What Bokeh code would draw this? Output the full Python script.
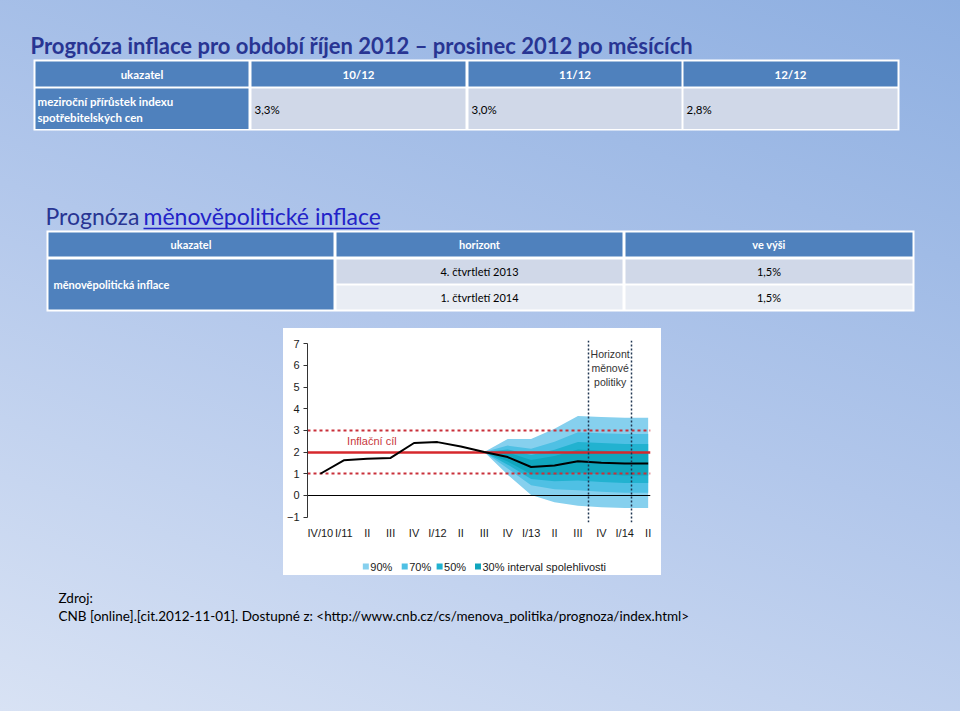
from bokeh.plotting import figure
from bokeh.models import Range1d, ColumnDataSource, FixedTicker, Spacer
from bokeh.layouts import column, row
from bokeh.core.properties import value
from bokeh.embed import file_html
from bokeh.resources import INLINE

# ---------------- data ----------------
title1 = "Prognóza inflace pro období říjen 2012 – prosinec 2012 po měsících"
t1_header = ["ukazatel", "10/12", "11/12", "12/12"]
t1_row_label = ["meziroční přírůstek indexu", "spotřebitelských cen"]
t1_values = ["3,3%", "3,0%", "2,8%"]

title2_a = "Prognóza"
title2_b = "měnověpolitické inflace"
t2_header = ["ukazatel", "horizont", "ve výši"]
t2_row_label = "měnověpolitická inflace"
t2_horizons = ["4. čtvrtletí 2013", "1. čtvrtletí 2014"]
t2_values = ["1,5%", "1,5%"]

quarters = ["IV/10", "I/11", "II", "III", "IV", "I/12", "II", "III",
            "IV", "I/13", "II", "III", "IV", "I/14", "II"]
inflation = [1.00, 1.62, 1.69, 1.73, 2.42, 2.46, 2.26, 2.00,
             1.77, 1.31, 1.38, 1.58, 1.51, 1.47, 1.47]

fan_idx = [7, 8, 9, 10, 11, 12, 13, 14]
band90_hi = [2.00, 2.60, 2.60, 3.08, 3.66, 3.62, 3.58, 3.58]
band90_lo = [2.00, 0.95, 0.02, -0.32, -0.48, -0.55, -0.58, -0.58]
band70_hi = [2.00, 2.30, 2.15, 2.48, 2.92, 2.87, 2.84, 2.84]
band70_lo = [2.00, 1.24, 0.47, 0.28, 0.24, 0.17, 0.12, 0.12]
band50_hi = [2.00, 2.12, 1.86, 2.11, 2.47, 2.42, 2.37, 2.37]
band50_lo = [2.00, 1.42, 0.76, 0.65, 0.69, 0.62, 0.57, 0.57]
band30_hi = [2.00, 1.98, 1.64, 1.82, 2.12, 2.06, 2.02, 2.02]
band30_lo = [2.00, 1.56, 0.98, 0.94, 1.04, 0.98, 0.92, 0.92]
band_labels = ["90%", "70%", "50%", "30% interval spolehlivosti"]

target = [2.0]
tolerance = [1.0, 3.0]
horizon_x = [11.45, 13.3]
y_ticks = [-1, 0, 1, 2, 3, 4, 5, 6, 7]

source_lines = ["Zdroj:",
                "CNB [online].[cit.2012-11-01]. Dostupné z: <http://www.cnb.cz/cs/menova_politika/prognoza/index.html>"]

# ---------------- styles ----------------
FONT = value("Lato")
CHART_FONT = value("Liberation Sans")
BLUE = "#4f81bd"
LIGHT = "#d0d8e8"
LIGHTER = "#e9edf4"
TITLE_COL = "#283593"
LINK_COL = "#2222c8"
BAND_COLORS = ["#86d0ee", "#4fc0e4", "#22b2d0", "#10a5bd"]
LEGEND_SWATCH_X = [364.5, 403.5, 438.5, 477]


def blank(w, h, x0, y0, y1, fill=None):
    f = figure(width=w, height=h, x_range=Range1d(x0, x0 + w), y_range=Range1d(y1, y0),
               output_backend="svg", toolbar_location=None, x_axis_type=None, y_axis_type=None,
               min_border=0, outline_line_color=None, background_fill_color=fill,
               border_fill_color=fill)
    return f


# ---------------- top part: titles and tables ----------------
top = blank(960, 328, 0, 0, 328)

top.text(x=[30], y=[45], text=[title1], text_font=FONT, text_font_style="bold",
         text_font_size="22px", text_color=TITLE_COL, text_baseline="middle")

# table 1
top.quad(left=[33], right=[899], top=[59], bottom=[130], fill_color="white", line_color=None)
t1_left = [35, 251, 468, 683]
t1_right = [248, 465, 681, 897]
top.quad(left=t1_left, right=t1_right, top=[61] * 4, bottom=[86] * 4, fill_color=BLUE, line_color=None)
top.quad(left=t1_left, right=t1_right, top=[88] * 4, bottom=[128.5] * 4,
         fill_color=[BLUE, LIGHT, LIGHT, LIGHT], line_color=None)
top.text(x=[(a + b) / 2 for a, b in zip(t1_left, t1_right)], y=[73.5] * 4, text=t1_header,
         text_font=FONT, text_font_style="bold", text_font_size="11.5px", text_color="white",
         text_align="center", text_baseline="middle")
top.text(x=[37, 37], y=[101, 117], text=t1_row_label, text_font=FONT, text_font_style="bold",
         text_font_size="11.5px", text_color="white", text_baseline="middle")
top.text(x=[l + 3 for l in t1_left[1:]], y=[108.5] * 3, text=t1_values, text_font=FONT,
         text_font_size="11.5px", text_color="black", text_baseline="middle")

# title 2
top.text(x=[45], y=[215], text=[title2_a], text_font=FONT, text_font_size="23px",
         text_color=TITLE_COL, text_baseline="middle")
top.text(x=[143], y=[215], text=[title2_b], text_font=FONT, text_font_size="23px",
         text_color=LINK_COL, text_baseline="middle")
top.segment(x0=[143], x1=[378], y0=[228], y1=[228], line_color=LINK_COL, line_width=1.5)

# table 2
top.quad(left=[46], right=[914], top=[230], bottom=[311], fill_color="white", line_color=None)
t2_left = [48, 336, 625]
t2_right = [333, 622, 912]
top.quad(left=t2_left, right=t2_right, top=[232] * 3, bottom=[256] * 3, fill_color=BLUE, line_color=None)
top.quad(left=[48], right=[333], top=[259], bottom=[309], fill_color=BLUE, line_color=None)
top.quad(left=t2_left[1:], right=t2_right[1:], top=[259, 259], bottom=[283, 283], fill_color=LIGHT, line_color=None)
top.quad(left=t2_left[1:], right=t2_right[1:], top=[285, 285], bottom=[309, 309], fill_color=LIGHTER, line_color=None)
top.text(x=[(a + b) / 2 for a, b in zip(t2_left, t2_right)], y=[244] * 3, text=t2_header,
         text_font=FONT, text_font_style="bold", text_font_size="11px", text_color="white",
         text_align="center", text_baseline="middle")
top.text(x=[53], y=[284], text=[t2_row_label], text_font=FONT, text_font_style="bold",
         text_font_size="11px", text_color="white", text_baseline="middle")
cx2 = (t2_left[1] + t2_right[1]) / 2
cx3 = (t2_left[2] + t2_right[2]) / 2
top.text(x=[cx2, cx2], y=[271, 297], text=t2_horizons, text_font=FONT, text_font_size="11px",
         text_color="black", text_align="center", text_baseline="middle")
top.text(x=[cx3, cx3], y=[271, 297], text=t2_values, text_font=FONT, text_font_size="11px",
         text_color="black", text_align="center", text_baseline="middle")

# ---------------- chart ----------------
p = figure(width=378, height=215, x_range=Range1d(-0.55, 14.1), y_range=Range1d(-1.25, 7.15),
           output_backend="svg", toolbar_location=None,
           min_border_left=23, min_border_right=11, min_border_top=12, min_border_bottom=21,
           background_fill_color="white", border_fill_color="white", outline_line_color=None)
p.grid.visible = False

fan = ColumnDataSource(dict(x=fan_idx, h90=band90_hi, l90=band90_lo, h70=band70_hi, l70=band70_lo,
                            h50=band50_hi, l50=band50_lo, h30=band30_hi, l30=band30_lo))
p.varea(x="x", y1="l90", y2="h90", source=fan, fill_color=BAND_COLORS[0])
p.varea(x="x", y1="l70", y2="h70", source=fan, fill_color=BAND_COLORS[1])
p.varea(x="x", y1="l50", y2="h50", source=fan, fill_color=BAND_COLORS[2])
p.varea(x="x", y1="l30", y2="h30", source=fan, fill_color=BAND_COLORS[3])

p.hspan(y=[0], line_color="black", line_width=1)
p.hspan(y=target, line_color="#d6282d", line_width=2.5)
p.hspan(y=tolerance, line_color="#c9303a", line_width=2, line_dash="3 3")

p.line(x=list(range(len(quarters))), y=inflation, line_color="black", line_width=2)

p.vspan(x=horizon_x, line_color="#1f3550", line_width=1.5, line_dash="2 2")

p.text(x=[2.2], y=[2.52], text=["Inflační cíl"], text_font=CHART_FONT, text_font_size="11px",
       text_color="#c8383c", text_align="center", text_baseline="middle")
hx = (horizon_x[0] + horizon_x[1]) / 2
p.text(x=[hx, hx, hx], y=[6.54, 5.9, 5.25], text=["Horizont", "měnové", "politiky"],
       text_font=CHART_FONT, text_font_size="10.5px", text_color="#333333",
       text_align="center", text_baseline="middle")

p.yaxis.ticker = FixedTicker(ticks=y_ticks)
p.yaxis.bounds = (-1, 7)
p.yaxis.axis_line_color = "#333333"
p.yaxis.major_tick_line_color = "#333333"
p.yaxis.major_tick_out = 4
p.yaxis.major_tick_in = 0
p.yaxis.minor_tick_line_color = None
p.yaxis.major_label_standoff = 4
p.yaxis.major_label_text_font = "Liberation Sans"
p.yaxis.major_label_text_font_size = "11px"
p.yaxis.major_label_text_color = "#1a1a1a"

p.xaxis.ticker = FixedTicker(ticks=list(range(len(quarters))))
p.xaxis.major_label_overrides = {i: q for i, q in enumerate(quarters)}
p.xaxis.axis_line_color = None
p.xaxis.major_tick_line_color = None
p.xaxis.minor_tick_line_color = None
p.xaxis.major_tick_out = 0
p.xaxis.major_tick_in = 0
p.xaxis.major_label_standoff = 4
p.xaxis.major_label_text_font = "Liberation Sans"
p.xaxis.major_label_text_font_size = "11px"
p.xaxis.major_label_text_color = "#1a1a1a"

# legend strip under the chart (page pixel coordinates, frame aligned with the chart frame)
leg = figure(width=378, height=32, x_range=Range1d(306, 650), y_range=Range1d(575, 543),
             output_backend="svg", toolbar_location=None, x_axis_type=None, y_axis_type=None,
             min_border=0, min_border_left=23, min_border_right=11,
             outline_line_color=None, background_fill_color=None, border_fill_color=None)
leg.rect(x=LEGEND_SWATCH_X, y=[566] * 4, width=6, height=6, width_units="screen",
         height_units="screen", fill_color=BAND_COLORS, line_color=None)
leg.text(x=[sx + 4.5 for sx in LEGEND_SWATCH_X], y=[566] * 4, text=band_labels,
         text_font=CHART_FONT, text_font_size="11px", text_color="#1a1a1a",
         text_baseline="middle")

# ---------------- bottom part: source ----------------
bottom = blank(960, 136, 0, 575, 711)
bottom.text(x=[58, 58], y=[597, 615], text=source_lines, text_font=FONT, text_font_size="13.5px",
            text_color="black", text_baseline="middle")

chart_box = column(p, leg, styles={"background": "white"})
layout = column(top,
                row(Spacer(width=283, height=247), chart_box, Spacer(width=299, height=247)),
                bottom,
                styles={"background": "linear-gradient(200deg, #8eafe1 0%, #b2c7eb 50%, #d8e2f4 100%)"})

open("out.html", "w").write(file_html(layout, INLINE))
